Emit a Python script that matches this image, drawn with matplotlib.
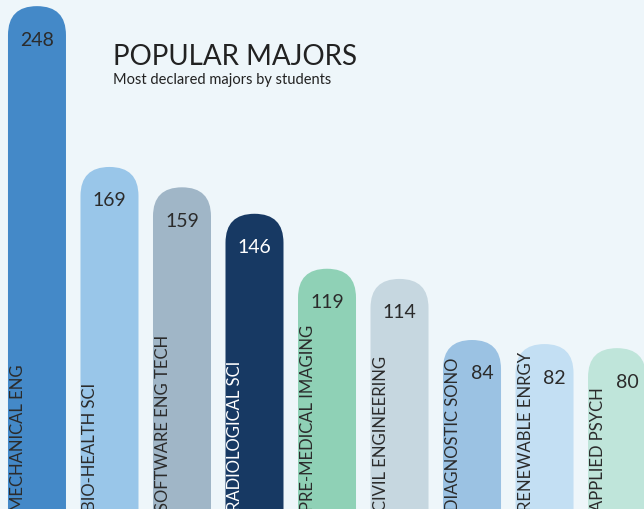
import matplotlib
matplotlib.use('Agg')
import matplotlib.pyplot as plt
from matplotlib.patches import FancyBboxPatch

# data
majors = ['MECHANICAL ENG', 'BIO-HEALTH SCI', 'SOFTWARE ENG TECH', 'RADIOLOGICAL SCI',
          'PRE-MEDICAL IMAGING', 'CIVIL ENGINEERING', 'DIAGNOSTIC SONO',
          'RENEWABLE ENRGY', 'APPLIED PSYCH']
counts = [248, 169, 159, 146, 119, 114, 84, 82, 80]
colors = ['#4489c8', '#99c6e9', '#a0b6c7', '#173963', '#8fd1b6',
          '#c6d7e0', '#9bc2e3', '#c3dff3', '#bfe5da']
bg = '#eef6fa'
dark = '#2b2b2b'

plt.rcParams['font.family'] = ['Lato', 'DejaVu Sans']

W, H = 644, 510
fig = plt.figure(figsize=(W / 100, H / 100), dpi=100, facecolor=bg)
ax = fig.add_axes([0, 0, 1, 1])
ax.set_facecolor(bg)
ax.axis('off')

xlim = (-0.51, 8.372)
ylim = (0.98, 251.5)
ax.set_xlim(*xlim)
ax.set_ylim(*ylim)

bw = 0.8
px_x = W / (xlim[1] - xlim[0])
px_y = H / (ylim[1] - ylim[0])
aspect = px_x / px_y          # y-units per x-unit for a round cap

for i, (name, v, c) in enumerate(zip(majors, counts, colors)):
    bar = FancyBboxPatch((i - bw / 2, -60), bw, v + 60,
                         boxstyle='round,pad=0,rounding_size=%f' % (bw / 2),
                         mutation_aspect=aspect, fc=c, ec='none')
    ax.add_patch(bar)
    tc = 'white' if c == '#173963' else dark
    # value near the top of the bar
    dx = 0.14 if i >= 6 else 0
    ax.text(i + dx, v - 33 / px_y, str(v), ha='center', va='center',
            fontsize=14, color=tc)
    # rotated name at the bottom
    ax.text(i - bw / 2 + 15 / px_x, 0.5, name, rotation=90, rotation_mode='anchor',
            ha='left', va='baseline', fontsize=12, color=tc)

fig.text(113 / W, 1 - 65 / H, 'POPULAR MAJORS', fontsize=20, color='#222222',
         ha='left', va='baseline')
fig.text(113 / W, 1 - 84 / H, 'Most declared majors by students', fontsize=10.5,
         color='#222222', ha='left', va='baseline')

fig.savefig('out.png', dpi=100, facecolor=bg)
